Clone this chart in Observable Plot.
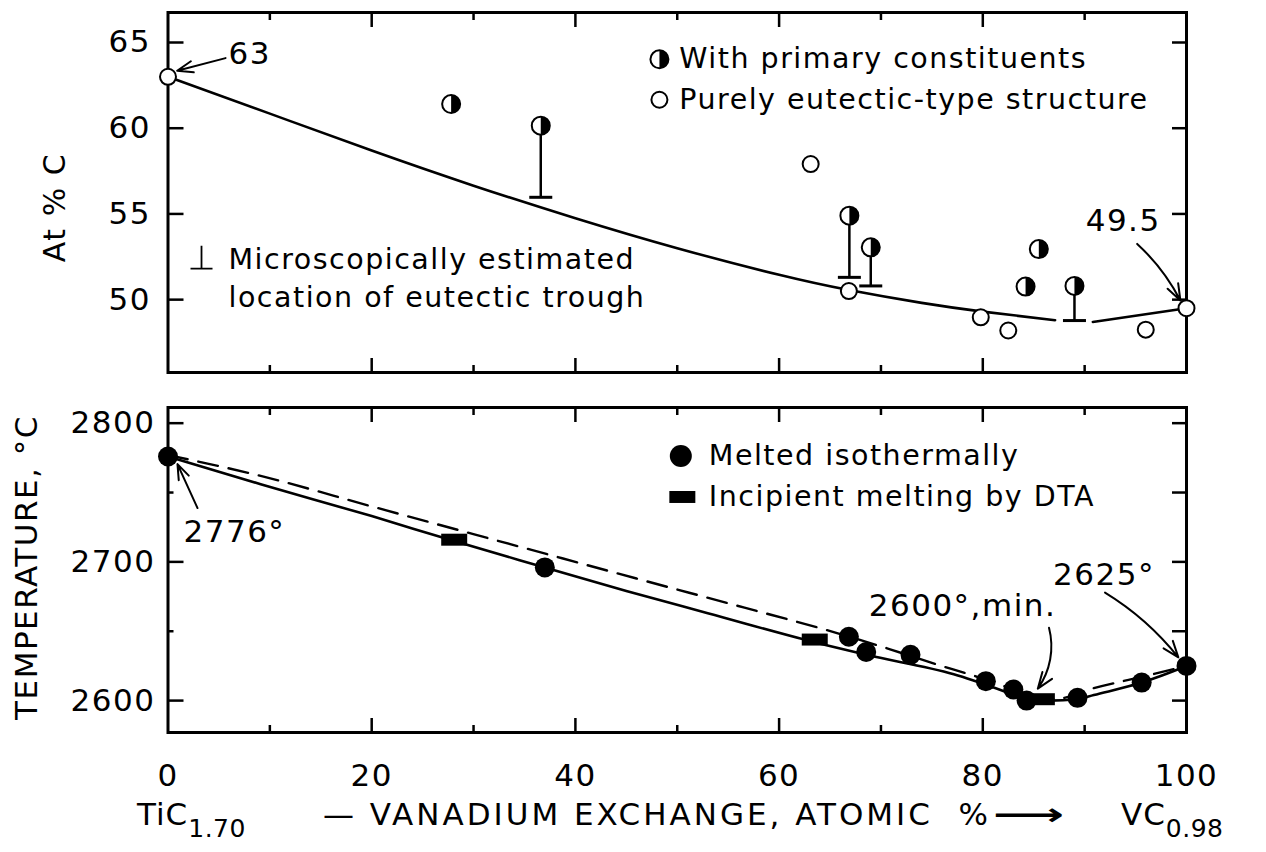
<!DOCTYPE html>
<html>
<head>
<meta charset="utf-8">
<script src="https://cdn.jsdelivr.net/npm/d3@7"></script>
<script src="https://cdn.jsdelivr.net/npm/@observablehq/plot@0.6"></script>
<style>
  body { margin: 0; background: #fff; }
  #chart { position: relative; width: 1266px; height: 852px; background: #fff; color: #000;
           font-family: "DejaVu Sans", sans-serif; overflow: hidden; }
  #upper, #lower { position: absolute; left: 0; }
  #upper { top: 0; }
  #lower { top: 385px; }
  #xtitle { position: absolute; left: 0; top: 799px; width: 1266px; height: 53px;
            font-size: 31px; line-height: 1; letter-spacing: 1px; }
  #xtitle > span { position: absolute; top: 0; white-space: pre; }
  #xtitle .wide { letter-spacing: 3px; }
  #xtitle .sub { position: relative; top: 12px; font-size: 25px; letter-spacing: 0.5px; }
  #xtitle .arrow { display: inline-block; transform: scaleX(1.6); transform-origin: left center;
                   margin-left: 2px; font-weight: bold; }
</style>
</head>
<body>
<div id="chart">
  <div id="upper"></div>
  <div id="lower"></div>
  <div id="xtitle">
    <span style="left:137px">TiC<span class="sub">1.70</span></span>
    <span class="wide" style="left:323px">— VANADIUM EXCHANGE, ATOMIC  %<span class="arrow">⟶</span></span>
    <span style="left:1121px">VC<span class="sub">0.98</span></span>
  </div>
</div>
<script>
// ---------- Upper panel: carbon content (At % C) ----------
// Eutectic trough curve, drawn in two pieces around the last trough estimate
const troughX = [0, 10, 20, 30, 40, 50, 60, 66.85, 74, 80, 87.1];
const troughC = [63, 60.85, 58.7, 56.65, 54.75, 53.0, 51.45, 50.56, 49.81, 49.3, 48.8];
const troughTailX = [90.8, 100];
const troughTailC = [48.7, 49.5];

// Alloys with primary constituents (half-filled), with microscopic trough estimates
const primaryX = [27.8, 36.6, 66.9, 69.0, 84.2, 85.5, 89.0];
const primaryC = [61.41, 60.15, 54.9, 53.05, 50.76, 52.95, 50.8];
const primaryTrough = [null, 55.97, 51.3, 50.8, null, null, 48.78];

// Alloys with a purely eutectic-type structure (open circles)
const eutecticX = [0, 63.1, 66.85, 79.8, 82.5, 96.0, 100];
const eutecticC = [63, 57.91, 50.5, 48.97, 48.2, 48.25, 49.5];

// ---------- Lower panel: melting temperature ----------
const isoX = [0, 37.0, 66.85, 68.55, 72.9, 80.3, 83.0, 84.3, 89.3, 95.6, 100];
const isoT = [2776, 2696, 2646, 2635, 2633, 2614, 2608, 2600, 2602, 2613, 2625];
const dtaX = [28.1, 63.5, 85.8];
const dtaT = [2716, 2644, 2601];

const solidX = [0, 9.1, 20, 28.1, 37.0, 45, 53, 64.05, 68.55, 77.15, 82.4, 84.3, 86.5, 89.3, 90.9, 95.6, 100];
const solidT = [2776, 2756, 2733, 2715, 2696, 2679, 2663, 2641, 2633, 2619, 2606, 2601, 2600, 2601, 2604, 2613, 2625];
const dashedX = [0, 9.1, 20, 35, 46, 56.6, 64.6, 70.9, 75.5, 79.1, 81.9, 84.5, 87, 90.9, 96.7, 100];
const dashedT = [2777, 2762, 2740, 2710, 2688, 2667, 2651, 2637, 2626, 2618, 2611, 2604, 2601, 2609, 2619, 2625];

// ---------- Tick values ----------
const xLabels = [0, 20, 40, 60, 80, 100];
const xMajorTicks = [20, 40, 60, 80];
const xMinorTicks = [10, 30, 50, 70, 90];
const cTicks = [50, 55, 60, 65];
const tMajorTicks = [2600, 2700, 2800];
const tMinorTicks = [2650, 2750];
const tRightTicks = [2600, 2650, 2700, 2750, 2800];

// ---------- Helpers ----------
const W = 1266, ML = 167.5, MR = 80;
const PW = W - ML - MR;
const pts = (xs, ys) => xs.map((x, i) => ({x, y: ys[i]}));
const plain = d3.format("d");

const halfRight = { draw(ctx, size) {
  const r = Math.sqrt(size / Math.PI);
  ctx.moveTo(0, -r); ctx.arc(0, 0, r, -Math.PI / 2, Math.PI / 2); ctx.closePath();
}};
const troughBar = { draw(ctx) { ctx.moveTo(-11.5, 0); ctx.lineTo(11.5, 0); } };
const troughGlyph = { draw(ctx) { ctx.moveTo(0, -12); ctx.lineTo(0, 11); ctx.moveTo(-11, 11); ctx.lineTo(11, 11); } };
const dtaSlab = { draw(ctx) { ctx.rect(-13, -6, 26, 12); } };

function frameTicks(ph, leftMajor, leftMinor, right) {
  const sw = 2.5;
  return [
    Plot.tickX(xMajorTicks, {insetTop: ph - 14, strokeWidth: sw}),
    Plot.tickX(xMajorTicks, {insetBottom: ph - 15, strokeWidth: sw}),
    Plot.tickX(xMinorTicks, {insetTop: ph - 7, strokeWidth: sw}),
    Plot.tickX(xMinorTicks, {insetBottom: ph - 8, strokeWidth: sw}),
    Plot.tickY(leftMajor, {insetRight: PW - 16, strokeWidth: sw}),
    Plot.tickY(leftMinor, {insetRight: PW - 6, strokeWidth: sw}),
    Plot.tickY(right, {insetLeft: PW - 14, strokeWidth: sw})
  ];
}

const svgStyle = "font-family: 'DejaVu Sans', sans-serif; font-size: 31px; letter-spacing: 1.5px; color: #000; background: #fff;";

// ---------- Upper panel ----------
const primary = pts(primaryX, primaryC).map((d, i) => ({...d, trough: primaryTrough[i]}));
const withTrough = primary.filter(d => d.trough != null);
const eutectic = pts(eutecticX, eutecticC);
const tiEnd = eutectic[0], vcEnd = eutectic[eutectic.length - 1];

const upperH = 385, upperMT = 12, upperMB = 13;
const upperPH = upperH - upperMT - upperMB;

const upper = Plot.plot({
  width: W, height: upperH,
  marginLeft: ML, marginRight: MR, marginTop: upperMT, marginBottom: upperMB,
  style: svgStyle,
  x: {domain: [0, 100], axis: null},
  y: {domain: [45.75, 66.75]},
  marks: [
    Plot.frame({strokeWidth: 3}),
    ...frameTicks(upperPH, cTicks, [], cTicks),
    Plot.axisY({ticks: cTicks, tickFormat: plain, tickSize: 0, tickPadding: 17, label: null}),
    Plot.text(["At % C"], {frameAnchor: "left", textAnchor: "middle", rotate: -90, dx: -112.5, dy: 15,
      fontSize: 30, text: d => d}),

    Plot.line(pts(troughX, troughC), {x: "x", y: "y", curve: "natural", strokeWidth: 2.6}),
    Plot.line(pts(troughTailX, troughTailC), {x: "x", y: "y", curve: "linear", strokeWidth: 2.6}),

    Plot.ruleX(withTrough, {x: "x", y1: "trough", y2: "y", strokeWidth: 2.5}),
    Plot.dot(withTrough, {x: "x", y: "trough", symbol: troughBar, r: 5, stroke: "black", strokeWidth: 3}),

    Plot.dot(eutectic, {x: "x", y: "y", r: 8, fill: "white", stroke: "black", strokeWidth: 2}),
    Plot.dot(primary, {x: "x", y: "y", r: 9, fill: "white", stroke: "black", strokeWidth: 2}),
    Plot.dot(primary, {x: "x", y: "y", r: 9, symbol: halfRight, fill: "black"}),

    // value call-outs for the two end members
    Plot.text([tiEnd], {x: 5.94, y: 64.31, text: d => String(d.y), textAnchor: "start"}),
    Plot.arrow([tiEnd], {x1: 5.65, y1: 64.09, x2: d => d.x + 0.9, y2: d => d.y + 0.35,
      strokeWidth: 2, headLength: 13, headAngle: 40}),
    Plot.text([vcEnd], {x: 90.1, y: 54.6, text: d => String(d.y), textAnchor: "start"}),
    Plot.arrow([vcEnd], {x1: 95.16, y1: 53.25, x2: d => d.x - 0.6, y2: d => d.y + 0.45,
      bend: 10, strokeWidth: 2, headLength: 13, headAngle: 40}),

    // legend
    Plot.dot([{x: 48.25, y: 64.02}], {x: "x", y: "y", r: 9, fill: "white", stroke: "black", strokeWidth: 2}),
    Plot.dot([{x: 48.25, y: 64.02}], {x: "x", y: "y", r: 9, symbol: halfRight, fill: "black"}),
    Plot.dot([{x: 48.25, y: 61.66}], {x: "x", y: "y", r: 8, fill: "white", stroke: "black", strokeWidth: 2}),
    Plot.text(["With primary constituents", "Purely eutectic-type structure"], {
      x: 50.2, y: (d, i) => [64.02, 61.66][i], text: d => d, textAnchor: "start", fontSize: 28.5}),
    Plot.dot([{x: 3.29, y: 52.45}], {x: "x", y: "y", symbol: troughGlyph, r: 5, stroke: "black", strokeWidth: 1.8}),
    Plot.text(["Microscopically estimated\nlocation of eutectic trough"], {
      x: 5.94, y: 51.4, text: d => d, textAnchor: "start", fontSize: 28.5, lineHeight: 1.33})
  ]
});
document.getElementById("upper").append(upper);

// ---------- Lower panel ----------
const iso = pts(isoX, isoT);
const dta = pts(dtaX, dtaT);
const minT = d3.min(solidT);
const isoFirst = iso[0], isoLast = iso[iso.length - 1];

const lowerH = 415, lowerMT = 22, lowerMB = 68;
const lowerPH = lowerH - lowerMT - lowerMB;

const lower = Plot.plot({
  width: W, height: lowerH,
  marginLeft: ML, marginRight: MR, marginTop: lowerMT, marginBottom: lowerMB,
  style: svgStyle,
  x: {domain: [0, 100]},
  y: {domain: [2577, 2811.3]},
  marks: [
    Plot.frame({strokeWidth: 3}),
    ...frameTicks(lowerPH, tMajorTicks, tMinorTicks, tRightTicks),
    Plot.axisY({ticks: tMajorTicks, tickFormat: plain, tickSize: 0, tickPadding: 12.5, label: null}),
    Plot.axisX({ticks: xLabels, tickFormat: plain, tickSize: 0, tickPadding: 31, label: null}),
    Plot.text(["TEMPERATURE, °C"], {frameAnchor: "left", textAnchor: "middle", rotate: -90, dx: -140.5, dy: -2.5,
      fontSize: 31, text: d => d}),

    Plot.line(pts(dashedX, dashedT), {x: "x", y: "y", curve: "monotone-x", strokeWidth: 2.4, strokeDasharray: "20,11"}),
    Plot.line(pts(solidX, solidT), {x: "x", y: "y", curve: "monotone-x", strokeWidth: 2.6}),

    Plot.dot(dta, {x: "x", y: "y", symbol: dtaSlab, r: 6, fill: "black"}),
    Plot.dot(iso, {x: "x", y: "y", r: 10, fill: "black"}),

    // temperature call-outs
    Plot.text([isoFirst], {x: 1.52, y: 2721.2, text: d => `${d.y}°`, textAnchor: "start"}),
    Plot.arrow([isoFirst], {x1: 2.9, y1: 2738.8, x2: d => d.x + 0.93, y2: d => d.y - 5.5,
      strokeWidth: 2, headLength: 13, headAngle: 40}),
    Plot.text([minT], {x: 68.8, y: 2668.3, text: d => `${d}°,min.`, textAnchor: "start"}),
    Plot.arrow([minT], {x1: 86.5, y1: 2652.5, x2: 85.4, y2: d => d + 8.6,
      bend: 25, strokeWidth: 2, headLength: 13, headAngle: 40}),
    Plot.text([isoLast], {x: 86.9, y: 2690.6, text: d => `${d.y}°`, textAnchor: "start"}),
    Plot.arrow([isoLast], {x1: 92.0, y1: 2677.9, x2: d => d.x - 0.8, y2: d => d.y + 6.2,
      bend: 10, strokeWidth: 2, headLength: 13, headAngle: 40}),

    // legend
    Plot.dot([{x: 50.35, y: 2776.3}], {x: "x", y: "y", r: 11, fill: "black"}),
    Plot.dot([{x: 50.5, y: 2746.8}], {x: "x", y: "y", symbol: dtaSlab, r: 6, fill: "black"}),
    Plot.text(["Melted isothermally", "Incipient melting by DTA"], {
      x: 53.1, y: (d, i) => [2776.3, 2746.8][i], text: d => d, textAnchor: "start", fontSize: 28.5})
  ]
});
document.getElementById("lower").append(lower);
</script>
</body>
</html>
